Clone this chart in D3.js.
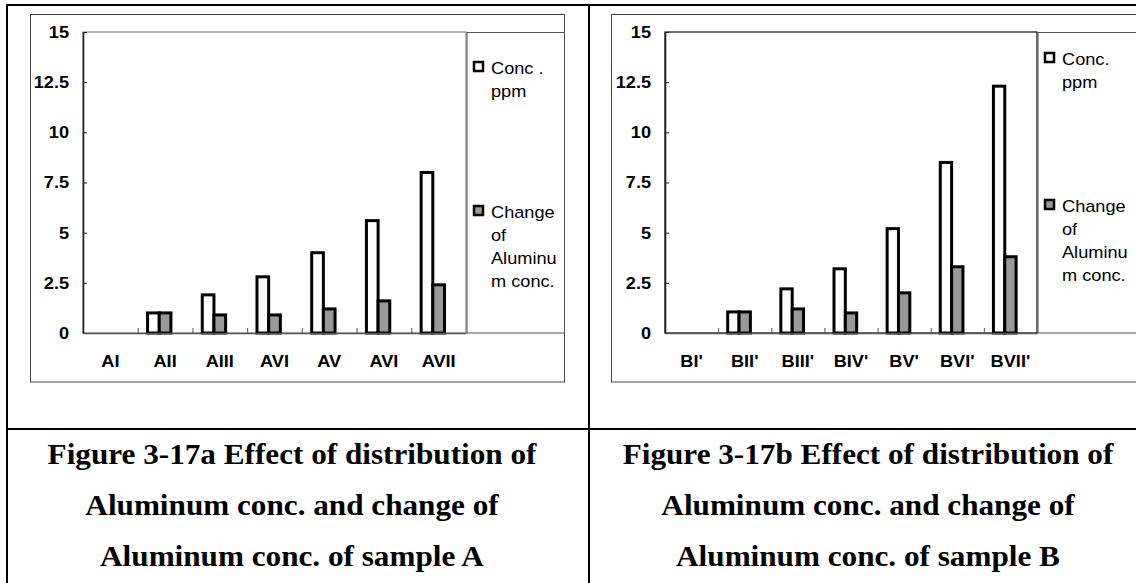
<!DOCTYPE html>
<html>
<head>
<meta charset="utf-8">
<script src="https://cdn.jsdelivr.net/npm/d3@7"></script>
<style>
  body { margin: 0; background: #fff; }
</style>
</head>
<body>
<div id="fig"></div>
<script>
// data
var catsA = ["AI", "AII", "AIII", "AVI", "AV", "AVI", "AVII"];
var concA = [0, 1.0, 1.9, 2.8, 4.0, 5.6, 8.0];
var changeA = [0, 1.0, 0.9, 0.9, 1.2, 1.6, 2.4];

var catsB = ["BI'", "BII'", "BIII'", "BIV'", "BV'", "BVI'", "BVII'"];
var concB = [0, 1.05, 2.2, 3.2, 5.2, 8.5, 12.3];
var changeB = [0, 1.05, 1.2, 1.0, 2.0, 3.3, 3.8];

var yTicks = [0, 2.5, 5, 7.5, 10, 12.5, 15];

var legendConcA = ["Conc .", "ppm"];
var legendConcB = ["Conc.", "ppm"];
var legendChange = ["Change", "of", "Aluminu", "m conc."];

var captionA = ["Figure 3-17a Effect of distribution of", "Aluminum conc. and change of", "Aluminum conc. of sample A"];
var captionB = ["Figure 3-17b Effect of distribution of", "Aluminum conc. and change of", "Aluminum conc. of sample B"];

var W = 1136, H = 583;
var sx = 1.07; // the original chart text is a bit wide

var svg = d3.select("#fig")
  .append("svg")
    .attr("width", W)
    .attr("height", H)
    .style("display", "block");

// table lines around the two cells
svg.append("line").attr("x1", 6).attr("x2", W).attr("y1", 5).attr("y2", 5)
  .attr("stroke", "#000").attr("stroke-width", 2);
svg.append("line").attr("x1", 7).attr("x2", 7).attr("y1", 4).attr("y2", H)
  .attr("stroke", "#000").attr("stroke-width", 2);
svg.append("line").attr("x1", 589).attr("x2", 589).attr("y1", 4).attr("y2", H)
  .attr("stroke", "#000").attr("stroke-width", 2);
svg.append("line").attr("x1", 6).attr("x2", W).attr("y1", 429).attr("y2", 429)
  .attr("stroke", "#000").attr("stroke-width", 2);

function stretchText(sel) {
  sel.attr("transform", "scale(" + sx + ",1)");
}

function panel(o) {
  var g = svg.append("g");
  var top = 32, base = 333;

  // chart area frame
  g.append("rect")
    .attr("x", o.fx).attr("y", 14.5)
    .attr("width", o.fr - o.fx).attr("height", 367.5)
    .attr("fill", "#fff").attr("stroke", "#444").attr("stroke-width", 1);

  var x0 = d3.scaleBand()
    .domain(d3.range(o.cats.length))
    .range([o.px, o.lx])
    .paddingInner(0.36)
    .paddingOuter(0.18);
  // third slot stays empty, as in the original clustered layout
  var x1 = d3.scaleBand()
    .domain(["conc", "change", "blank"])
    .range([0, x0.bandwidth()]);
  var y = d3.scaleLinear()
    .domain([0, 15])
    .range([base, top]);

  // plot area border
  g.append("rect")
    .attr("x", o.px).attr("y", top)
    .attr("width", o.lx - o.px).attr("height", base - top)
    .attr("fill", "none").attr("stroke", o.plotStroke).attr("stroke-width", 1.2);

  // legend box
  g.append("rect")
    .attr("x", o.lx + 1).attr("y", top + 0.5)
    .attr("width", o.fr - o.lx - 1).attr("height", base - top - 0.5)
    .attr("fill", "#fff").attr("stroke", "#555").attr("stroke-width", 1);

  // bars
  var series = [
    {key: "conc", values: o.conc, fill: "#fff"},
    {key: "change", values: o.change, fill: "#999"}
  ];
  series.forEach(function(s) {
    g.append("g")
      .selectAll("rect")
      .data(s.values.map(function(v, i) { return {i: i, v: v}; })
        .filter(function(d) { return d.v > 0; }))
      .enter()
      .append("rect")
        .attr("x", function(d) { return x0(d.i) + x1(s.key); })
        .attr("y", function(d) { return y(d.v); })
        .attr("width", x1.bandwidth())
        .attr("height", function(d) { return y(0) - y(d.v); })
        .attr("fill", s.fill)
        .attr("stroke", "#000")
        .attr("stroke-width", 3);
  });

  // Y axis
  var yAxis = g.append("g")
    .attr("transform", "translate(" + o.px + ",0)")
    .call(d3.axisLeft(y).tickValues(yTicks).tickSizeInner(-4).tickSizeOuter(0)
      .tickPadding(13).tickFormat(function(d) { return String(d); }));
  yAxis.select(".domain").attr("stroke", "#222").attr("stroke-width", 1.6);
  yAxis.selectAll(".tick line").attr("stroke", "#222");
  yAxis.selectAll("text")
    .style("font-family", "'Liberation Sans', Arial, sans-serif")
    .style("font-weight", "bold")
    .style("font-size", "17px")
    .attr("fill", "#000")
    .call(stretchText);

  // X axis: line and ticks on the category boundaries
  var xb = d3.scaleLinear().domain([0, o.cats.length]).range([o.px, o.lx]);
  var xLine = g.append("g")
    .attr("transform", "translate(0," + base + ")")
    .call(d3.axisBottom(xb).tickValues(d3.range(1, o.cats.length))
      .tickSizeInner(-5).tickSizeOuter(0).tickFormat(""));
  xLine.select(".domain").attr("stroke", "#555").attr("stroke-width", 1.6);
  xLine.selectAll(".tick line").attr("stroke", "#555");

  // X labels
  var xLab = g.append("g")
    .attr("transform", "translate(0," + base + ")")
    .call(d3.axisBottom(x0).tickSize(0).tickPadding(22)
      .tickFormat(function(i) { return o.cats[i]; }));
  xLab.select(".domain").remove();
  xLab.selectAll("text")
    .style("font-family", "'Liberation Sans', Arial, sans-serif")
    .style("font-weight", "bold")
    .style("font-size", "17px")
    .attr("fill", "#000")
    .call(stretchText);

  // legend
  var items = [
    {lines: o.legendConc, fill: "#fff", y0: o.legY[0]},
    {lines: legendChange, fill: "#999", y0: o.legY[1]}
  ];
  items.forEach(function(it) {
    g.append("rect")
      .attr("x", o.lx + 8).attr("y", it.y0 - 12)
      .attr("width", 9).attr("height", 9)
      .attr("fill", it.fill).attr("stroke", "#000").attr("stroke-width", 2.5);
    it.lines.forEach(function(t, k) {
      g.append("text")
        .attr("transform", "translate(" + (o.lx + 25) + "," + (it.y0 + k * 23) + ") scale(" + sx + ",1)")
        .style("font-family", "'Liberation Sans', Arial, sans-serif")
        .style("font-size", "17px")
        .attr("fill", "#000")
        .text(t);
    });
  });

  // caption under the chart
  o.caption.forEach(function(t, k) {
    svg.append("text")
      .attr("transform", "translate(" + o.cx + "," + (464 + k * 51) + ") scale(1.04,1)")
      .attr("text-anchor", "middle")
      .style("font-family", "'Liberation Serif', 'Times New Roman', serif")
      .style("font-weight", "bold")
      .style("font-size", "30px")
      .attr("fill", "#000")
      .text(t);
  });
}

panel({
  cats: catsA, conc: concA, change: changeA,
  fx: 30.5, fr: 564.5, px: 83, lx: 466,
  plotStroke: "#888",
  legendConc: legendConcA, legY: [74, 218],
  caption: captionA, cx: 292
});

panel({
  cats: catsB, conc: concB, change: changeB,
  fx: 611.5, fr: 1160, px: 665, lx: 1037,
  plotStroke: "#111",
  legendConc: legendConcB, legY: [65, 212],
  caption: captionB, cx: 868
});
</script>
</body>
</html>
